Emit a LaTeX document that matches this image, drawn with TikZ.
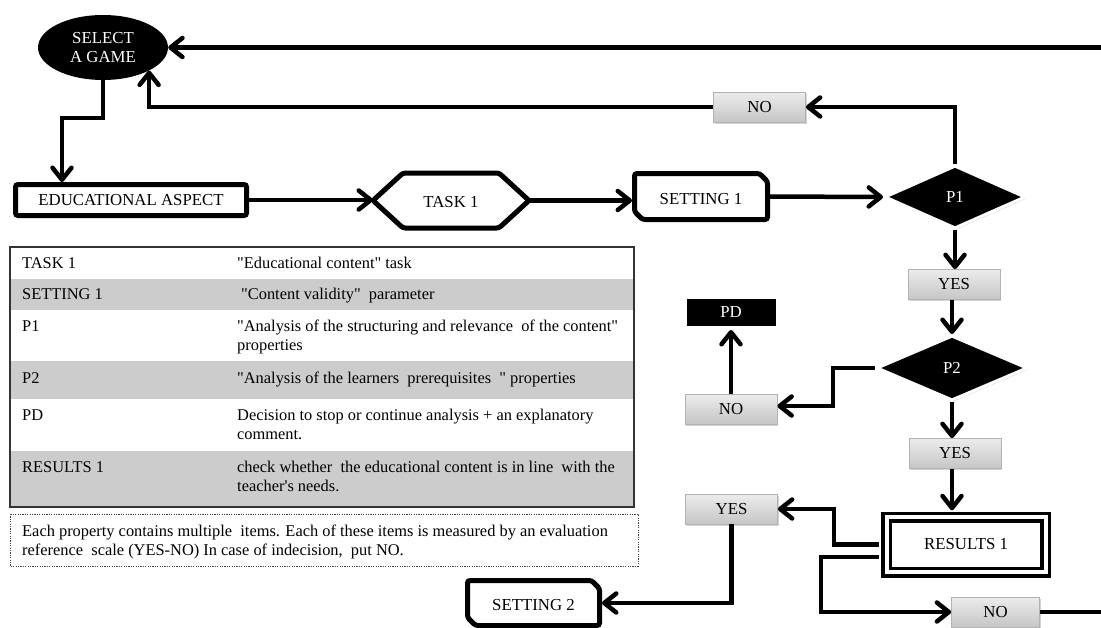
\documentclass[tikz,border=0pt]{standalone}
\usepackage{fontspec}
\setmainfont{Liberation Serif}[Ligatures=TeXOff]
\usetikzlibrary{arrows.meta,shapes.geometric,shadows,calc}

\begin{document}
\begin{tikzpicture}[x=1pt,y=-1pt,
  conn/.style={line width=4.5pt, -{Straight Barb[length=12pt,width=19pt,round]}},
  lbl/.style={font=\fontsize{16.8}{19}\selectfont},
  outline/.style={line width=5pt, rounded corners=2.5pt},
  ghost/.style={inner sep=0pt, outer sep=0pt, lbl},
  btn/.style={draw=gray!60, line width=0.8pt, top color=gray!15, bottom color=gray!45,
    minimum width=92pt, minimum height=30pt, inner sep=0pt, lbl,
    drop shadow={opacity=0.35, shadow xshift=1pt, shadow yshift=-1.5pt}},
  dec/.style={diamond, fill=black, draw=white, line width=3pt, text=white,
    inner sep=0pt, lbl, drop shadow={opacity=0.3, shadow xshift=1.5pt, shadow yshift=-1.5pt}},
  cell/.style={anchor=base west, inner sep=0pt, font=\fontsize{16.4}{19}\selectfont},
]
\useasboundingbox (0,0) rectangle (1101,627);

% ---------- flowchart nodes ----------
\node[ellipse, fill=black, text=white, minimum width=130pt, minimum height=65pt,
  inner sep=0pt, align=center, lbl] (sel) at (103,47.5) {SELECT\\A GAME};

\node[ghost, minimum width=231pt, minimum height=31pt] (ea) at (131,200) {EDUCATIONAL ASPECT};
\draw[outline] (ea.north west) rectangle (ea.south east);

\node[ghost, minimum width=156pt, minimum height=55pt, text height=14pt, text depth=0pt] (task) at (451,200.5) {TASK 1};
\draw[outline] (task.west) -- ($(task.north west)+(30,0)$) -- ($(task.north east)+(-30,0)$)
  -- (task.east) -- ($(task.south east)+(-30,0)$) -- ($(task.south west)+(30,0)$) -- cycle;

\node[ghost, minimum width=133pt, minimum height=46pt, text height=16pt, text depth=0pt] (set1) at (701,196.5) {SETTING 1};
\draw[outline] (set1.north west) -- ($(set1.north east)+(-8,0)$) -- ($(set1.north east)+(0,8)$)
  -- (set1.south east) -- ($(set1.south west)+(8,0)$) -- ($(set1.south west)+(0,-8)$) -- cycle;

\node[dec, minimum width=141pt, minimum height=63pt] (p1) at (955,197) {P1};
\node[btn] (no1) at (759.5,107) {NO};
\node[btn] (yes1) at (954,284.5) {YES};
\node[dec, minimum width=151pt, minimum height=65pt] (p2) at (952,368) {P2};
\node[btn] (no2) at (731,409) {NO};
\node[fill=black, draw=white, line width=4pt, text=white, minimum width=93pt, minimum height=31pt,
  inner sep=0pt, lbl, drop shadow={opacity=0.3, shadow xshift=1.5pt, shadow yshift=-1.5pt}] (pd) at (731,312.5) {PD};
\node[btn] (yes2) at (955,453.5) {YES};
\node[draw, double, line width=3.5pt, double distance=4pt, minimum width=159pt, minimum height=55pt,
  inner sep=0pt, lbl] (res) at (966,544.5) {RESULTS 1};
\node[btn] (yes3) at (731.5,509) {YES};
\node[btn, minimum width=88pt] (no3) at (995.5,612) {NO};

\node[ghost, minimum width=132pt, minimum height=45pt, text height=14pt, text depth=0pt] (set2) at (533.5,603) {SETTING 2};
\draw[outline] (set2.north west) -- ($(set2.north east)+(-8,0)$) -- ($(set2.north east)+(0,8)$)
  -- (set2.south east) -- ($(set2.south west)+(8,0)$) -- ($(set2.south west)+(0,-8)$) -- cycle;

% ---------- bends of the connectors ----------
\coordinate (j1) at (62,118);
\coordinate (j2) at (833,406);
\coordinate (j3) at (834,509);
\coordinate (j4) at (821,612);
\coordinate (rt) at (1115,47.5);
\coordinate (r2) at ($(res.west)+(0,12.5)$);

% ---------- connectors ----------
\draw[conn, shorten >=2.5pt] (sel.south) |- (j1) -- (j1 |- ea.north);
\draw[conn] (ea.east) -- (ea.east -| task.west);
\draw[conn, shorten >=2.5pt] (task.east) -- (task.east -| set1.west);
\draw[conn] (set1.east) -- (p1.west);
\draw[conn] (p1.north) |- (no1.east);
\draw[conn] (no1.west) -| (sel.south east);
\draw[conn] (p1.south) -- (p1.south |- yes1.north);
\draw[conn] (yes1.south -| p2.north) -- (p2.north);
\draw[conn] (p2.west) -| (j2) -- (j2 -| no2.east);
\draw[conn] (no2.north) -- (pd.south);
\draw[conn] (p2.south) -- (p2.south |- yes2.north);
\draw[conn, shorten >=5pt] (yes2.south -| p2.south) -- (p2.south |- res.north);
\draw[conn, shorten <=6pt] (res.west) -| (j3) -- (yes3.east);
\draw[conn, shorten <=6pt] (r2) -| (j4) -- (no3.west);
\draw[conn, shorten >=2.5pt] (yes3.south) |- (set2.east);
\draw[conn] (no3.east) -| (rt) -- (sel.east);

% ---------- legend table ----------
\fill[gray!40] (11,279) rectangle (634,310);
\fill[gray!40] (11,361) rectangle (634,399);
\fill[gray!40] (11,451) rectangle (634,506);
\draw[line width=2pt, black!80] (10,247) rectangle (634,507);

\node[cell] (k1) at (22,268.5) {TASK 1};
\node[cell] (v1) at (237,268.5) {"Educational content" task};
\node[cell] (k2) at (22,299.5) {SETTING 1};
\node[cell] (v2) at (241,299.5) {"Content validity"\ \ parameter};
\node[cell] (k3) at (22,331.5) {P1};
\node[cell] (v3a) at (237,331.5) {"Analysis of the structuring and relevance\ \ of the content"};
\node[cell] (v3b) at (237,350) {properties};
\node[cell] (k4) at (22,383.5) {P2};
\node[cell] (v4) at (237,383.5) {"Analysis of the learners\ \ prerequisites\ \ " properties};
\node[cell] (k5) at (22,420.5) {PD};
\node[cell] (v5a) at (237,420.5) {Decision to stop or continue analysis + an explanatory};
\node[cell] (v5b) at (237,439) {comment.};
\node[cell] (k6) at (22,472) {RESULTS 1};
\node[cell] (v6a) at (237,472) {check whether\ \ the educational content is in line\ \ with the};
\node[cell] (v6b) at (237,491) {teacher's needs.};

% ---------- note ----------
\draw[black!75, line width=0.6pt, dash pattern=on 1.2pt off 1.2pt] (10,514) rectangle (638,566);
\node[cell] (n1) at (22,536) {Each property contains multiple\ \ items. Each of these items is measured by an evaluation};
\node[cell] (n2) at (22,555) {reference\ \ scale (YES-NO) In case of indecision,\ \ put NO.};
\end{tikzpicture}
\end{document}
